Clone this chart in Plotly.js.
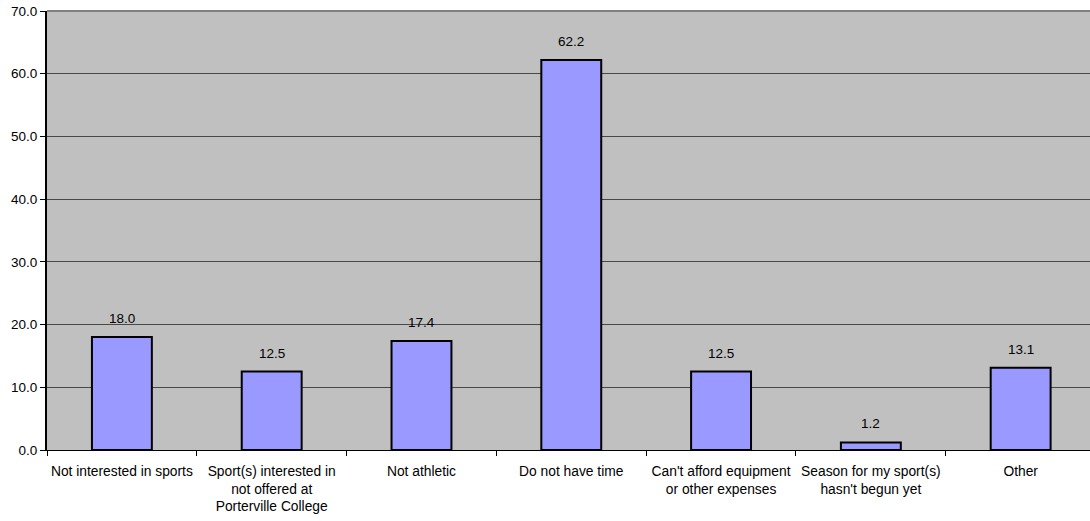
<!DOCTYPE html>
<html>
<head>
<meta charset="utf-8">
<script src="https://cdn.plot.ly/plotly-3.0.1.min.js"></script>
<style>html,body{margin:0;padding:0;background:#fff;}#chart{width:1090px;height:521px;}</style>
</head>
<body>
<div id="chart"></div>
<script>
const categories = [
  "Not interested in sports",
  "Sport(s) interested in<br>not offered at<br>Porterville College",
  "Not athletic",
  "Do not have time",
  "Can't afford equipment<br>or other expenses",
  "Season for my sport(s)<br>hasn't begun yet",
  "Other"
];
const values = [18.0, 12.5, 17.4, 62.2, 12.5, 1.2, 13.1];
const yTicks = [0, 10, 20, 30, 40, 50, 60, 70];
const yTickLabels = yTicks.map(v => v.toFixed(1));

const FONT = "Liberation Sans, Arial, sans-serif";

const trace = {
  type: "bar",
  x: categories,
  y: values,
  width: 0.4,
  marker: {color: "#9999FF", line: {color: "#000000", width: 2}},
  hoverinfo: "skip"
};

const annotations = values.map((v, i) => ({
  x: categories[i], y: v, xref: "x", yref: "y",
  text: v.toFixed(1), showarrow: false,
  yanchor: "bottom", yshift: 9,
  font: {family: FONT, size: 13.5, color: "#000"}
}));

const layout = {
  width: 1090, height: 521,
  margin: {l: 47, r: 0, t: 11, b: 71, pad: 0},
  paper_bgcolor: "#FFFFFF",
  plot_bgcolor: "#C0C0C0",
  font: {family: FONT, size: 13.5, color: "#000"},
  showlegend: false,
  bargap: 0.6,
  xaxis: {
    type: "category",
    range: [-0.5, 6.463],
    showline: true, linecolor: "#000", linewidth: 1,
    ticks: "outside", tickson: "boundaries", ticklen: 5, tickcolor: "#000", tickwidth: 1,
    showgrid: false, zeroline: false,
    tickangle: 0,
    tickfont: {family: FONT, size: 13.8, color: "#000"},
    ticklabelstandoff: 8,
    fixedrange: true
  },
  yaxis: {
    range: [0, 70],
    tickvals: yTicks, ticktext: yTickLabels,
    showline: true, linecolor: "#000", linewidth: 2,
    ticks: "outside", ticklen: 5, tickcolor: "#000", tickwidth: 1,
    showgrid: true, gridcolor: "#484848", gridwidth: 1,
    zeroline: false,
    tickfont: {family: FONT, size: 13.5, color: "#000"},
    fixedrange: true
  },
  shapes: [{
    type: "line", xref: "paper", yref: "paper", x0: 0, x1: 1, y0: 1, y1: 1,
    line: {color: "#808080", width: 2}
  }],
  annotations: annotations
};

Plotly.newPlot("chart", [trace], layout, {displayModeBar: false, staticPlot: true});
</script>
</body>
</html>
